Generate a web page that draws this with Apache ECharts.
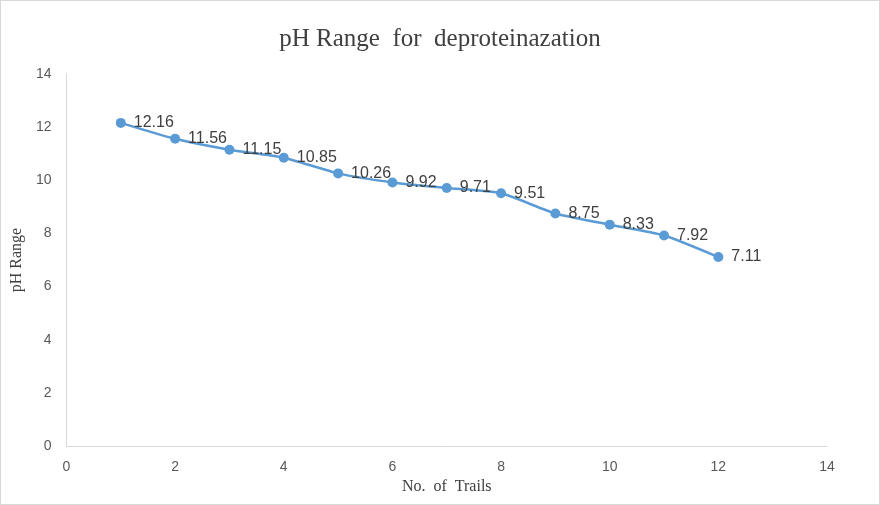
<!DOCTYPE html>
<html><head><meta charset="utf-8">
<script src="https://cdn.jsdelivr.net/npm/echarts@6/dist/echarts.min.js"></script>
<style>html,body{margin:0;padding:0;background:#fff}#c{width:880px;height:505px;box-sizing:border-box;border:1px solid #d9d9d9}</style>
</head><body><div id="c"></div>
<script>
const trials = [1, 2, 3, 4, 5, 6, 7, 8, 9, 10, 11, 12];
const phValues = [12.16, 11.56, 11.15, 10.85, 10.26, 9.92, 9.71, 9.51, 8.75, 8.33, 7.92, 7.11];

const chart = echarts.init(document.getElementById('c'));
chart.setOption({
  animation: false,
  title: {
    text: 'pH Range  for  deproteinazation', left: 'center', top: 21,
    textStyle: { fontFamily: 'Liberation Serif', fontSize: 25, fontWeight: 'normal', color: '#404040' }
  },
  grid: { left: 60, right: 52, top: 73, bottom: 58 },
  xAxis: {
    type: 'value', min: 0, max: 14, interval: 2,
    name: 'No.  of  Trails', nameLocation: 'middle', nameGap: 17,
    nameTextStyle: { fontFamily: 'Liberation Serif', fontSize: 16, color: '#404040' },
    axisLine: { lineStyle: { color: '#d9d9d9' } },
    axisTick: { show: false }, splitLine: { show: false },
    axisLabel: { color: '#595959', fontSize: 14, fontFamily: 'Liberation Sans', margin: 14 }
  },
  yAxis: {
    type: 'value', min: 0, max: 14, interval: 2,
    name: 'pH Range', nameLocation: 'middle', nameGap: 36,
    nameTextStyle: { fontFamily: 'Liberation Serif', fontSize: 16, color: '#404040' },
    axisLine: { show: true, lineStyle: { color: '#d9d9d9' } },
    axisTick: { show: false }, splitLine: { show: false },
    axisLabel: { color: '#595959', fontSize: 14, fontFamily: 'Liberation Sans', margin: 15 }
  },
  series: [{
    type: 'line', smooth: 0.2,
    data: trials.map((t, i) => [t, phValues[i]]),
    symbol: 'circle', symbolSize: 10,
    itemStyle: { color: '#5b9bd5' },
    lineStyle: { color: '#5b9bd5', width: 2.5 },
    label: {
      show: true, position: 'right', distance: 8,
      color: '#404040', fontSize: 16, fontFamily: 'Liberation Sans',
      formatter: p => p.value[1]
    }
  }]
});
</script></body></html>
